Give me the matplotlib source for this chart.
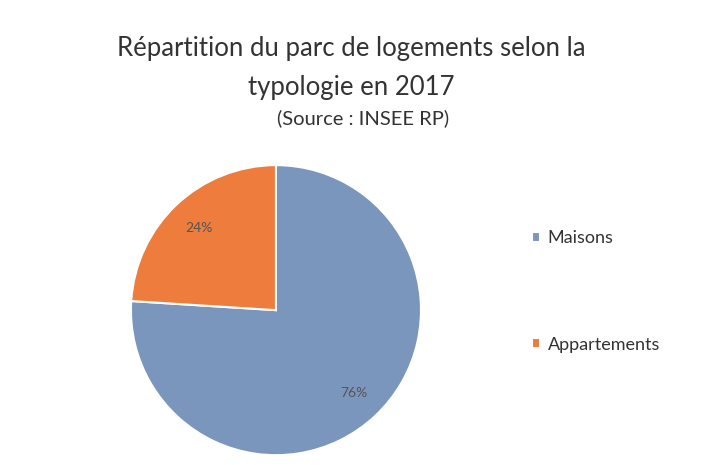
import matplotlib
matplotlib.use("Agg")
import matplotlib.pyplot as plt
import numpy as np

# Données (INSEE RP 2017)
categories = ["Maisons", "Appartements"]
parts = [76, 24]
etiquettes = ["76%", "24%"]
couleurs = ["#7b96bd", "#ee7d3d"]

plt.rcParams['font.family'] = ['Lato', 'DejaVu Sans']

fig = plt.figure(figsize=(7.04, 4.65), dpi=100)
fig.patch.set_facecolor("white")

# titre
fig.text(0.499, 0.895, "Répartition du parc de logements selon la", ha="center", va="center",
         fontsize=18.5, color="#333333")
fig.text(0.499, 0.812, "typologie en 2017", ha="center", va="center",
         fontsize=18.5, color="#333333")
fig.text(0.516, 0.746, "(Source : INSEE RP)", ha="center", va="center",
         fontsize=14.5, color="#333333")

ax = fig.add_axes([0.186, 0.021, 0.412, 0.624])
wedges, textes = ax.pie(parts, colors=couleurs, startangle=90, counterclock=False,
                        wedgeprops=dict(edgecolor="white", linewidth=1.5))
ax.set_aspect("equal")
ax.set_xlim(-1, 1)
ax.set_ylim(-1, 1)

# étiquettes de pourcentage
for w, lab in zip(wedges, etiquettes):
    ang = np.deg2rad((w.theta1 + w.theta2) / 2)
    ax.text(0.78 * np.cos(ang), 0.78 * np.sin(ang), lab, ha="center", va="center",
            fontsize=10, color="#555555")

leg = fig.legend(wedges, categories, loc="center left", bbox_to_anchor=(0.733, 0.373),
                 frameon=False, fontsize=13, handlelength=0.45, handleheight=0.45,
                 labelspacing=5.0, handletextpad=0.4)
for t in leg.get_texts():
    t.set_color("#333333")

fig.savefig("out.png", dpi=100)
